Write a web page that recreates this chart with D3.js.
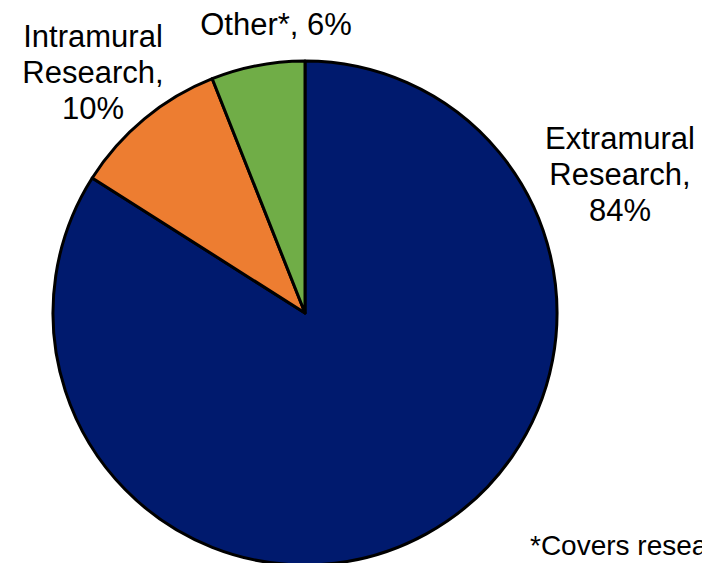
<!DOCTYPE html>
<html lang="en">
<head>
<meta charset="UTF-8">
<title>Budget shares</title>
<script src="https://d3js.org/d3.v7.min.js"></script>
<style>
  body { margin: 0; background: #fff; }
  text { font-family: "Liberation Sans", Arial, sans-serif; fill: #000; }
</style>
</head>
<body>
<script>
var categories = ["Extramural Research", "Intramural Research", "Other*"];
var shares = [84, 10, 6];
var colors = ["#001A6E", "#ED7D31", "#70AD47"];
var labelLines = [["Extramural", "Research,", "84%"], ["Intramural", "Research,", "10%"], ["Other*, 6%"]];
var footnote = "*Covers research management and support, buildings and facilities, and other";

var width = 702, height = 563;
var cx = 305, cy = 313, radius = 252;

var svg = d3.select("body").append("svg")
    .attr("width", width)
    .attr("height", height);

var pie = d3.pie().sort(null).value(function(d) { return d; });
var arc = d3.arc().innerRadius(0).outerRadius(radius);

var g = svg.append("g").attr("transform", "translate(" + cx + "," + cy + ")");

g.selectAll("path")
    .data(pie(shares))
    .enter()
    .append("path")
    .attr("d", arc)
    .attr("fill", function(d, i) { return colors[i]; })
    .attr("stroke", "#000")
    .attr("stroke-width", 3)
    .attr("stroke-linejoin", "round");

// label anchor points (centre x, first baseline)
var labelPos = [[620, 149], [93, 47], [276, 35]];
var lineH = 36;

labelLines.forEach(function(lines, i) {
    var t = svg.append("text")
        .attr("text-anchor", "middle")
        .attr("font-size", 31);
    lines.forEach(function(s, j) {
        t.append("tspan")
            .attr("x", labelPos[i][0])
            .attr("y", labelPos[i][1] + j * lineH)
            .text(s);
    });
});

// footnote runs off the right edge, as in the original slide
svg.append("text")
    .attr("x", 530)
    .attr("y", 555)
    .attr("font-size", 28)
    .text(footnote);
</script>
</body>
</html>
